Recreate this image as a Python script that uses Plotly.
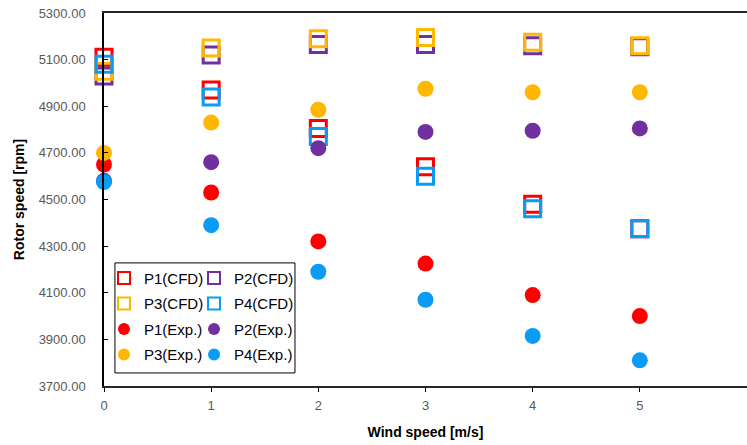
import plotly.graph_objects as go

wind = [0, 1, 2, 3, 4, 5]

p1_cfd = [5110, 4970, 4805, 4640, 4480, 4375]
p2_cfd = [5030, 5120, 5165, 5165, 5160, 5155]
p3_cfd = [5050, 5150, 5190, 5195, 5175, 5160]
p4_cfd = [5080, 4940, 4770, 4600, 4460, 4375]

p1_exp = [4650, 4530, 4320, 4225, 4090, 4000]
p2_exp = [4580, 4660, 4720, 4790, 4795, 4805]
p3_exp = [4700, 4830, 4885, 4975, 4960, 4960]
p4_exp = [4575, 4390, 4190, 4070, 3915, 3810]

y_ticks = [3700, 3900, 4100, 4300, 4500, 4700, 4900, 5100, 5300]
y_tick_labels = ["%.2f" % v for v in y_ticks]

RED = "#FF0000"
PURPLE = "#7030A0"
ORANGE = "#FFB700"
BLUE = "#0A9BF5"

fig = go.Figure()

cfd = [("P1(CFD)", p1_cfd, RED, "legend"),
       ("P2(CFD)", p2_cfd, PURPLE, "legend2"),
       ("P3(CFD)", p3_cfd, ORANGE, "legend"),
       ("P4(CFD)", p4_cfd, BLUE, "legend2")]
exp = [("P1(Exp.)", p1_exp, RED, "legend"),
       ("P2(Exp.)", p2_exp, PURPLE, "legend2"),
       ("P3(Exp.)", p3_exp, ORANGE, "legend"),
       ("P4(Exp.)", p4_exp, BLUE, "legend2")]

for name, vals, col, lg in cfd:
    fig.add_trace(go.Scatter(
        x=wind, y=vals, name=name, mode="markers", legend=lg, legendgroup=name,
        cliponaxis=False,
        marker=dict(symbol="square-open", size=16, color=col,
                    line=dict(width=3, color=col)),
    ))
for name, vals, col, lg in exp:
    fig.add_trace(go.Scatter(
        x=wind, y=vals, name=name, mode="markers", legend=lg, legendgroup=name,
        cliponaxis=False,
        marker=dict(symbol="circle", size=16, color=col,
                    line=dict(width=0)),
    ))

legend_common = dict(
    bgcolor="rgba(255,255,255,0)", borderwidth=0,
    font=dict(family="Liberation Sans", size=15, color="#000000"),
    itemsizing="constant", tracegroupgap=3,
    xanchor="left", yanchor="top", orientation="v",
)

fig.update_layout(
    width=747, height=445,
    margin=dict(l=104, r=0, t=13, b=59, autoexpand=False),
    paper_bgcolor="white", plot_bgcolor="white",
    showlegend=True,
    legend=dict(x=0.0, y=0.333, **legend_common),
    legend2=dict(x=0.14, y=0.333, **legend_common),
    font=dict(family="Liberation Sans"),
    xaxis=dict(
        range=[0, 6], tickmode="array", tickvals=[0, 1, 2, 3, 4, 5, 6],
        ticks="outside", ticklen=4, tickcolor="#000000",
        showline=True, linecolor="#262626", linewidth=1.5, mirror=True,
        showgrid=False, zeroline=False, automargin=False,
        ticklabelstandoff=3,
        tickfont=dict(family="Liberation Sans", size=13, color="#595959"),
        title=dict(text="<b>Wind speed [m/s]</b>", standoff=15,
                   font=dict(family="Liberation Sans", size=14, color="#000000")),
    ),
    yaxis=dict(
        range=[3700, 5300], tickmode="array", tickvals=y_ticks,
        ticktext=y_tick_labels,
        ticks="inside", ticklen=4, tickcolor="#000000",
        showline=True, linecolor="#000000", linewidth=1.5, mirror=True,
        showgrid=False, zeroline=False, automargin=False,
        ticklabelstandoff=14,
        tickfont=dict(family="Liberation Sans", size=13, color="#595959"),
        title=dict(text="<b>Rotor speed [rpm]</b>", standoff=11,
                   font=dict(family="Liberation Sans", size=14, color="#000000")),
    ),
    shapes=[dict(type="rect", xref="paper", yref="paper",
                 x0=0.017, x1=0.297, y0=0.035, y1=0.33,
                 line=dict(color="#000000", width=1), fillcolor="rgba(0,0,0,0)")],
)

fig.write_html("out.html",
               config={"displayModeBar": False},
               post_script="document.body.style.margin='0';document.body.style.padding='0';document.body.style.overflow='hidden';")
